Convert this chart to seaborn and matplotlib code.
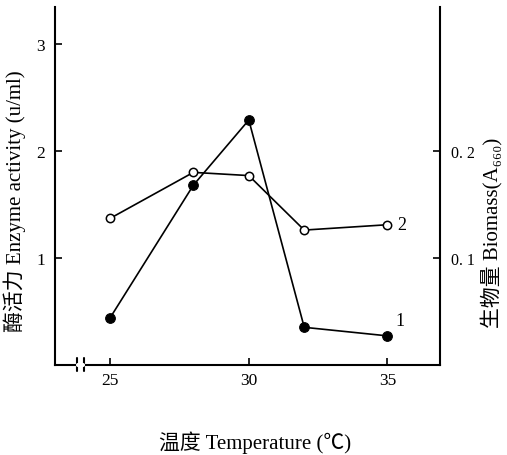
import matplotlib
matplotlib.use("Agg")
import matplotlib.pyplot as plt
import matplotlib.transforms as mtransforms
import seaborn as sns
import pandas as pd

sns.set_theme(style="ticks")
plt.rcParams['font.family'] = ['Liberation Serif', 'Noto Sans CJK SC', 'DejaVu Sans']

temperature = [25, 28, 30, 32, 35]
enzyme_activity = [0.44, 1.68, 2.29, 0.35, 0.27]      # curve 1, left axis (u/ml)
biomass = [0.137, 0.180, 0.177, 0.126, 0.131]         # curve 2, right axis (A660)
x_ticks = [25, 30, 35]
left_ticks = [1, 2, 3]
right_ticks = [0.1, 0.2]

df1 = pd.DataFrame({"T": temperature, "E": enzyme_activity})
df2 = pd.DataFrame({"T": temperature, "B": biomass})

fig = plt.figure(figsize=(5.07, 4.56), dpi=100)
ax = fig.add_axes([0.108, 0.198, 0.760, 0.785])
ax2 = ax.twinx()

sns.lineplot(data=df1, x="T", y="E", ax=ax, color="black", lw=1.2,
             marker="o", markersize=7, markerfacecolor="black",
             markeredgecolor="black")
sns.lineplot(data=df2, x="T", y="B", ax=ax2, color="black", lw=1.2,
             marker="o", markersize=6, markerfacecolor="white",
             markeredgecolor="black", markeredgewidth=1.1)

ax.set_xlim(23.0, 36.9)
ax.set_ylim(0, 3.35)
ax2.set_ylim(0, 0.335)

ax.set_xticks(x_ticks)
ax.set_xticklabels([str(t) for t in x_ticks], fontsize=12.5)
ax.set_yticks(left_ticks)
ax.set_yticklabels([str(t) for t in left_ticks], fontsize=12.5)
ax2.set_yticks(right_ticks)
ax2.set_yticklabels(["0. 1", "0. 2"], fontsize=11.5)

ax.tick_params(axis="both", direction="in", length=5, width=1.2, color="black", labelcolor="black")
ax2.tick_params(axis="y", direction="in", length=5, width=1.2, color="black", labelcolor="black", pad=8)
ax.tick_params(axis="y", pad=7)
ax.tick_params(axis="x", pad=5)

for a in (ax, ax2):
    a.spines["top"].set_visible(False)
    for s in ("left", "right", "bottom"):
        a.spines[s].set_color("black")
        a.spines[s].set_linewidth(1.5)
ax.spines["right"].set_visible(False)
ax2.spines["left"].set_visible(False)
ax2.spines["bottom"].set_visible(False)

ax.set_xlabel("温度 Temperature (℃)", fontsize=15, color="black")
ax.xaxis.set_label_coords(0.52, -0.183)
ax.set_ylabel("酶活力 Enzyme activity (u/ml)", fontsize=15, color="black")
ax.yaxis.set_label_coords(-0.074, 0.46)
ax2.set_ylabel("生物量 Biomass(A₆₆₀)", fontsize=15, color="black")
ax2.yaxis.set_label_coords(1.108, 0.37)

# axis break on x axis
trans = mtransforms.blended_transform_factory(ax.transData, ax.transAxes)
for xb in (23.8, 24.05):
    ax.plot([xb, xb], [-0.018, 0.018], transform=trans, color="black", lw=1.5, clip_on=False)
ax.plot([23.84, 24.01], [0, 0], transform=trans, color="white", lw=3, clip_on=False, zorder=5)

# curve labels
ax.text(temperature[-1] + 0.3, enzyme_activity[-1] + 0.1, "1", fontsize=13, color="black")
ax2.text(temperature[-1] + 0.35, biomass[-1] - 0.004, "2", fontsize=13, color="black")

fig.savefig("out.png", dpi=100, facecolor="white")
